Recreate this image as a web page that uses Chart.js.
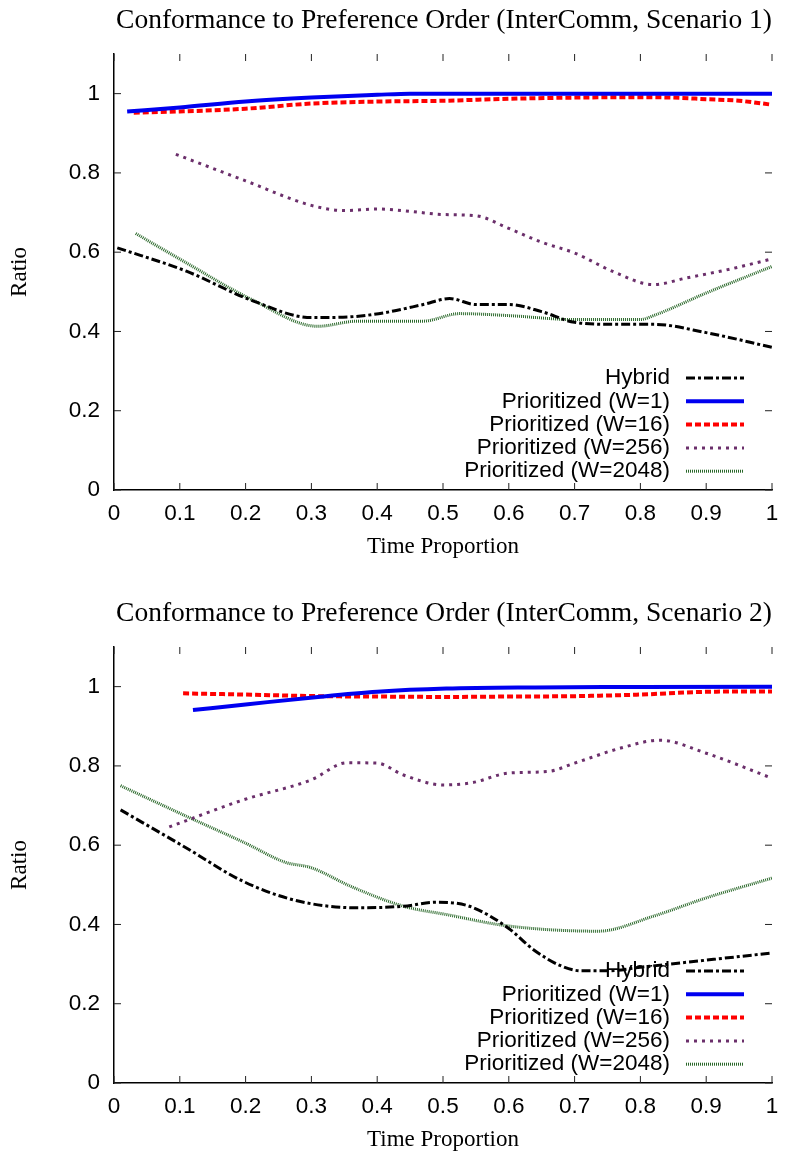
<!DOCTYPE html>
<html>
<head>
<meta charset="utf-8">
<script src="https://cdn.jsdelivr.net/npm/chart.js@4/dist/chart.umd.min.js"></script>
<style>
  body { margin: 0; background: #fff; }
  .box { position: absolute; left: 0; width: 789px; height: 563px; }
</style>
</head>
<body>
<div class="box" style="top:0"><canvas id="sc1" width="789" height="563"></canvas></div>
<div class="box" style="top:593px"><canvas id="sc2" width="789" height="563"></canvas></div>
<script>
// series labels, shared by both panels
const labels = [
  "Hybrid",
  "Prioritized (W=1)",
  "Prioritized (W=16)",
  "Prioritized (W=256)",
  "Prioritized (W=2048)",
];

const xTicks = [0, 0.1, 0.2, 0.3, 0.4, 0.5, 0.6, 0.7, 0.8, 0.9, 1];
const yTicks = [0, 0.2, 0.4, 0.6, 0.8, 1];

// Scenario 1
const s1HybridX = [0.005, 0.11, 0.21, 0.30, 0.36, 0.41, 0.47, 0.51, 0.55, 0.60, 0.65, 0.70, 0.76, 0.82, 0.90, 1.0];
const s1HybridY = [0.611, 0.552, 0.478, 0.435, 0.437, 0.447, 0.468, 0.483, 0.468, 0.468, 0.45, 0.423, 0.418, 0.418, 0.397, 0.36];
const s1W1X = [0.02, 0.1, 0.2, 0.3, 0.4, 0.45, 0.6, 0.8, 1.0];
const s1W1Y = [0.955, 0.965, 0.98, 0.99, 0.997, 1.0, 1.0, 1.0, 1.0];
const s1W16X = [0.03, 0.1, 0.2, 0.3, 0.4, 0.5, 0.6, 0.7, 0.8, 0.85, 0.9, 0.95, 1.0];
const s1W16Y = [0.952, 0.955, 0.962, 0.975, 0.98, 0.982, 0.987, 0.99, 0.991, 0.99, 0.986, 0.982, 0.972];
const s1W256X = [0.094, 0.2, 0.3, 0.35, 0.4, 0.45, 0.5, 0.55, 0.6, 0.65, 0.7, 0.76, 0.82, 0.87, 0.93, 1.0];
const s1W256Y = [0.847, 0.78, 0.718, 0.705, 0.709, 0.703, 0.695, 0.692, 0.66, 0.625, 0.598, 0.55, 0.518, 0.535, 0.555, 0.583];
const s1W2048X = [0.033, 0.11, 0.21, 0.31, 0.37, 0.47, 0.525, 0.6, 0.7, 0.8, 0.82, 0.9, 1.0];
const s1W2048Y = [0.647, 0.573, 0.48, 0.413, 0.426, 0.426, 0.445, 0.44, 0.43, 0.43, 0.44, 0.497, 0.564];

// Scenario 2
const s2HybridX = [0.01, 0.11, 0.196, 0.28, 0.373, 0.44, 0.49, 0.54, 0.6, 0.637, 0.68, 0.71, 0.75, 0.8, 0.9, 1.0];
const s2HybridY = [0.689, 0.593, 0.509, 0.459, 0.442, 0.446, 0.456, 0.446, 0.39, 0.337, 0.295, 0.283, 0.283, 0.292, 0.31, 0.328];
const s2W1X = [0.12, 0.2, 0.31, 0.4, 0.505, 0.64, 0.8, 1.0];
const s2W1Y = [0.941, 0.955, 0.974, 0.987, 0.995, 0.998, 0.999, 1.0];
const s2W16X = [0.105, 0.2, 0.31, 0.4, 0.505, 0.6, 0.7, 0.8, 0.9, 1.0];
const s2W16Y = [0.983, 0.98, 0.976, 0.975, 0.974, 0.975, 0.976, 0.98, 0.987, 0.988];
const s2W256X = [0.084, 0.196, 0.30, 0.354, 0.40, 0.44, 0.50, 0.545, 0.60, 0.66, 0.70, 0.77, 0.83, 0.9, 1.0];
const s2W256Y = [0.646, 0.714, 0.765, 0.808, 0.807, 0.777, 0.752, 0.758, 0.782, 0.786, 0.807, 0.845, 0.865, 0.832, 0.769];
const s2W2048X = [0.01, 0.11, 0.20, 0.26, 0.30, 0.36, 0.44, 0.505, 0.6, 0.736, 0.82, 0.9, 1.0];
const s2W2048Y = [0.75, 0.673, 0.605, 0.557, 0.543, 0.496, 0.446, 0.425, 0.396, 0.383, 0.421, 0.467, 0.517];

const styles = [
  { borderColor: "#000000", borderWidth: 3, borderDash: [9, 3, 3, 3] },
  { borderColor: "#0000f0", borderWidth: 4, borderDash: [] },
  { borderColor: "#ff0000", borderWidth: 4, borderDash: [6, 3] },
  { borderColor: "#6b2f6b", borderWidth: 3, borderDash: [3, 5] },
  { borderColor: "#2a682a", borderWidth: 3, borderDash: [1, 1] },
];

const serif = '"Liberation Serif", "Times New Roman", serif';

Chart.defaults.color = "#000";
Chart.defaults.font.family = '"Liberation Sans", Arial, sans-serif';
Chart.defaults.font.size = 22.5;

function pts(xs, ys) {
  return xs.map((x, i) => ({ x: x, y: ys[i] }));
}

// gnuplot style: tics pointing inward, mirrored on top and right
const mirrorTicks = {
  id: "mirrorTicks",
  beforeDatasetsDraw(chart) {
    const { ctx, chartArea: a, scales } = chart;
    ctx.save();
    ctx.strokeStyle = "#222";
    ctx.lineWidth = 1;
    ctx.beginPath();
    xTicks.forEach((v) => {
      const px = scales.x.getPixelForValue(v);
      ctx.moveTo(px, a.bottom);
      ctx.lineTo(px, a.bottom - 7);
      ctx.moveTo(px, a.top);
      ctx.lineTo(px, a.top + 7);
    });
    yTicks.forEach((v) => {
      const py = scales.y.getPixelForValue(v);
      ctx.moveTo(a.left, py);
      ctx.lineTo(a.left + 7, py);
      ctx.moveTo(a.right, py);
      ctx.lineTo(a.right - 7, py);
    });
    ctx.stroke();
    ctx.restore();
  },
};

// key inside the plot: right aligned text, line sample to its right
const gnuLegend = {
  id: "gnuLegend",
  afterDatasetsDraw(chart) {
    const { ctx, chartArea: a } = chart;
    ctx.save();
    ctx.font = '22.5px "Liberation Sans", Arial, sans-serif';
    ctx.textAlign = "right";
    ctx.textBaseline = "middle";
    chart.data.datasets.forEach((ds, i) => {
      const y = a.bottom - 112 + i * 23.3;
      ctx.fillStyle = "#000";
      ctx.fillText(ds.label, a.right - 102, y);
      ctx.strokeStyle = ds.borderColor;
      ctx.lineWidth = ds.borderWidth;
      ctx.setLineDash(ds.borderDash);
      ctx.beginPath();
      ctx.moveTo(a.right - 86, y);
      ctx.lineTo(a.right - 28, y);
      ctx.stroke();
    });
    ctx.restore();
  },
};

function makeChart(id, title, series) {
  return new Chart(document.getElementById(id), {
    type: "line",
    data: {
      datasets: series.map((s, i) => ({
        label: labels[i],
        data: pts(s[0], s[1]),
        borderColor: styles[i].borderColor,
        borderWidth: styles[i].borderWidth,
        borderDash: styles[i].borderDash,
        pointRadius: 0,
        fill: false,
        cubicInterpolationMode: "monotone",
      })),
    },
    options: {
      responsive: false,
      animation: false,
      layout: { padding: { left: 0, right: 17, top: 0, bottom: 0 } },
      scales: {
        x: {
          type: "linear",
          min: 0,
          max: 1,
          afterFit: (scale) => {
            scale.height = 73;
            scale.paddingLeft = 0;
            scale.paddingRight = 0;
          },
          afterBuildTicks: (scale) => { scale.ticks = xTicks.map((v) => ({ value: v })); },
          ticks: { padding: 10, maxRotation: 0, callback: (v) => String(v) },
          grid: { display: false, drawTicks: false },
          border: { display: true, color: "#000", width: 1.5 },
          title: {
            display: true,
            text: "Time Proportion",
            font: { family: serif, size: 23 },
            padding: { top: 0, bottom: 2 },
          },
        },
        y: {
          min: 0,
          max: 1.1,
          afterFit: (scale) => {
            scale.width = 114;
            scale.paddingTop = 0;
            scale.paddingBottom = 0;
          },
          afterBuildTicks: (scale) => { scale.ticks = yTicks.map((v) => ({ value: v })); },
          ticks: { padding: 14, callback: (v) => String(v) },
          grid: { display: false, drawTicks: false },
          border: { display: true, color: "#000", width: 1.5 },
          title: {
            display: true,
            text: "Ratio",
            font: { family: serif, size: 23 },
            padding: { top: 6, bottom: 0 },
          },
        },
      },
      plugins: {
        legend: { display: false },
        tooltip: { enabled: false },
        title: {
          display: true,
          text: title,
          align: "end",
          color: "#000",
          font: { family: serif, size: 27.5, weight: "normal" },
          padding: { top: 4, bottom: 17 },
        },
      },
    },
    plugins: [mirrorTicks, gnuLegend],
  });
}

makeChart("sc1", "Conformance to Preference Order (InterComm, Scenario 1)", [
  [s1HybridX, s1HybridY],
  [s1W1X, s1W1Y],
  [s1W16X, s1W16Y],
  [s1W256X, s1W256Y],
  [s1W2048X, s1W2048Y],
]);

makeChart("sc2", "Conformance to Preference Order (InterComm, Scenario 2)", [
  [s2HybridX, s2HybridY],
  [s2W1X, s2W1Y],
  [s2W16X, s2W16Y],
  [s2W256X, s2W256Y],
  [s2W2048X, s2W2048Y],
]);
</script>
</body>
</html>
